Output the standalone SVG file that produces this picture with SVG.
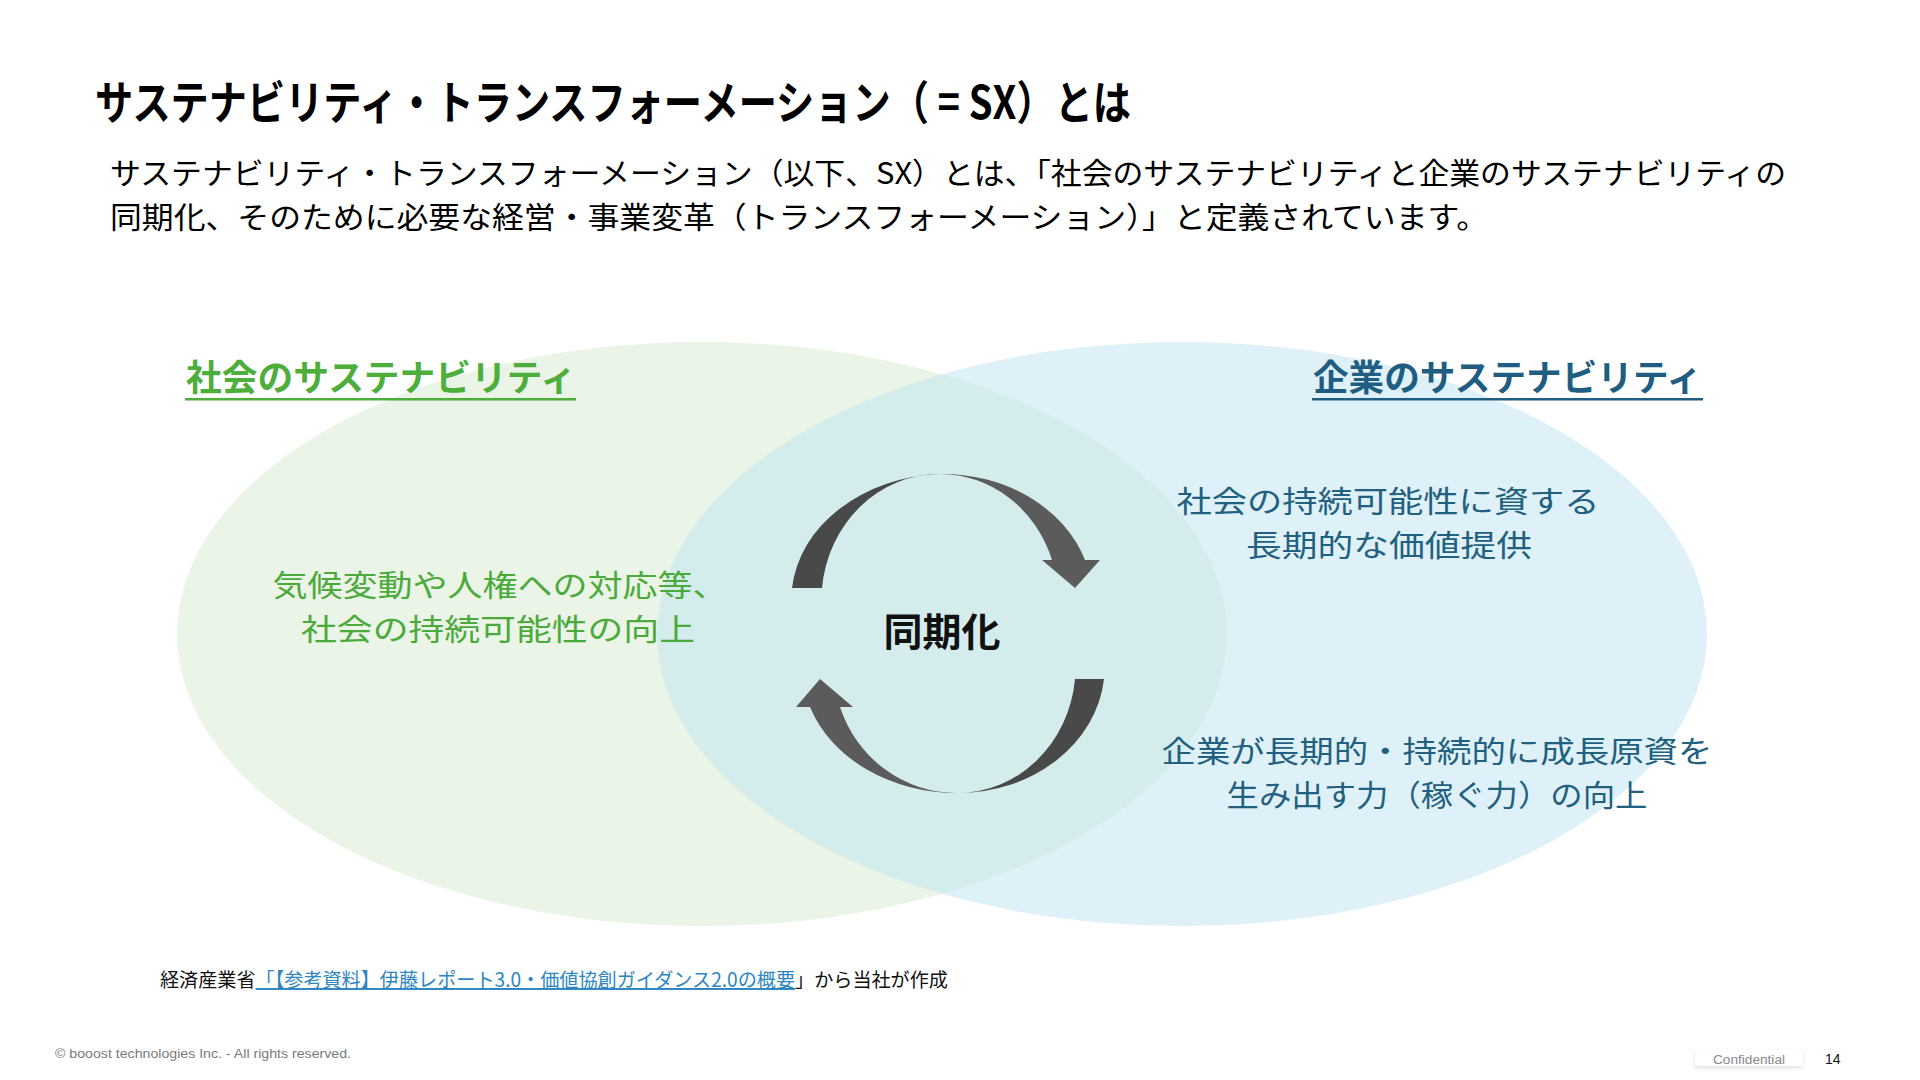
<svg xmlns="http://www.w3.org/2000/svg" width="1920" height="1080" viewBox="0 0 1920 1080">
<defs>
<style>
.jp{font-family:"Noto Sans CJK JP","Noto Sans",sans-serif;}
.lat{font-family:"Liberation Sans",Arial,sans-serif;}
.title{font-size:46px;font-weight:700;fill:#000;}
.sub{font-size:30px;fill:#000;}
.hg{font-size:36px;font-weight:700;fill:#4DAE3B;}
.hb{font-size:36px;font-weight:700;fill:#1F5E82;}
.tg{font-size:30px;fill:#4BAA3C;}
.tb{font-size:30px;fill:#21607F;}
.center{font-size:39px;font-weight:700;fill:#111;}
.foot{font-size:19.5px;fill:#111;}
.link{fill:#2E86C1;text-decoration:underline;}
.arrowDark{fill:#494949;}
.arrowLight{fill:#5B5B5B;}
</style>
<filter id="sh" x="-10%" y="-50%" width="120%" height="200%">
<feDropShadow dx="0" dy="2" stdDeviation="2" flood-color="#000" flood-opacity="0.12"/>
</filter>
</defs>
<rect width="1920" height="1080" fill="#FFFFFF"/>

<g id="header">
<text class="jp title" x="95" y="119" textLength="1036" lengthAdjust="spacingAndGlyphs">サステナビリティ・トランスフォーメーション（ = SX）とは</text>
<text class="jp sub"><tspan x="110" y="184" textLength="1676" lengthAdjust="spacingAndGlyphs">サステナビリティ・トランスフォーメーション（以下、SX）とは、「社会のサステナビリティと企業のサステナビリティの</tspan><tspan x="110" y="228" textLength="1378" lengthAdjust="spacingAndGlyphs">同期化、そのために必要な経営・事業変革（トランスフォーメーション）」と定義されています。</tspan></text>
</g>

<g id="society">
<ellipse cx="702" cy="634" rx="525" ry="292" fill="#EBF5E7"/>
</g>
<g id="company">
<ellipse cx="1182" cy="634" rx="525" ry="292" fill="#BFE3F2" fill-opacity="0.5"/>
</g>

<g id="society-label">
<text class="jp hg" x="186" y="391" textLength="390" lengthAdjust="spacingAndGlyphs">社会のサステナビリティ</text>
<rect x="185" y="398" width="391" height="2.5" fill="#4DAE3B"/>
</g>
<g id="company-label">
<text class="jp hb" x="1313" y="391" textLength="389" lengthAdjust="spacingAndGlyphs">企業のサステナビリティ</text>
<rect x="1312" y="398" width="391" height="2.5" fill="#1F5E82"/>
</g>

<g id="society-text">
<text class="jp tg" text-anchor="middle"><tspan x="500" y="596" textLength="455" lengthAdjust="spacingAndGlyphs">気候変動や人権への対応等、</tspan><tspan x="498" y="640" textLength="394" lengthAdjust="spacingAndGlyphs">社会の持続可能性の向上</tspan></text>
</g>

<g id="company-text-1">
<text class="jp tb" text-anchor="middle"><tspan x="1388" y="512" textLength="423" lengthAdjust="spacingAndGlyphs">社会の持続可能性に資する</tspan><tspan x="1389" y="556" textLength="286" lengthAdjust="spacingAndGlyphs">長期的な価値提供</tspan></text>
</g>

<g id="company-text-2">
<text class="jp tb" text-anchor="middle"><tspan x="1437" y="762" textLength="551" lengthAdjust="spacingAndGlyphs">企業が長期的・持続的に成長原資を</tspan><tspan x="1437" y="806" textLength="421" lengthAdjust="spacingAndGlyphs">生み出す力（稼ぐ力）の向上</tspan></text>
</g>

<g id="connectors">
<g id="arrow-top">
<path class="arrowDark" d="M 792 588 A 156 126 0 0 1 940 474 A 118 126 0 0 0 822 588 Z"/>
<path class="arrowLight" d="M 940 474 A 150 126 0 0 1 1085 560 L 1100 560 L 1075 588 L 1042 560 L 1052 560 A 118 126 0 0 0 940 474 Z"/>
</g>
<g id="arrow-bottom">
<path class="arrowDark" d="M 1104 679 A 147 126 0 0 1 957 793 A 118 126 0 0 0 1075 679 Z"/>
<path class="arrowLight" d="M 957 793 A 155 126 0 0 1 810 707 L 796 707 L 820 679 L 853 707 L 840 707 A 123 126 0 0 0 957 793 Z"/>
</g>
</g>

<g id="sync">
<text class="jp center" x="942" y="646" text-anchor="middle">同期化</text>
</g>

<g id="source">
<text class="jp foot" x="160" y="987" textLength="788" lengthAdjust="spacingAndGlyphs">経済産業省<tspan class="link">「【参考資料】伊藤レポート3.0・価値協創ガイダンス2.0の概要</tspan>」から当社が作成</text>
</g>

<g id="footer">
<text class="lat" x="55" y="1058" font-size="12.5" fill="#7A7A7A" textLength="296" lengthAdjust="spacingAndGlyphs">© booost technologies Inc. - All rights reserved.</text>
<rect x="1695" y="1049" width="108" height="17" fill="#FFFFFF" filter="url(#sh)"/>
<text class="lat" x="1713" y="1064" font-size="13" fill="#8A8A8A" textLength="72" lengthAdjust="spacingAndGlyphs">Confidential</text>
<text class="lat" x="1825" y="1064" font-size="14" fill="#111">14</text>
</g>
</svg>
